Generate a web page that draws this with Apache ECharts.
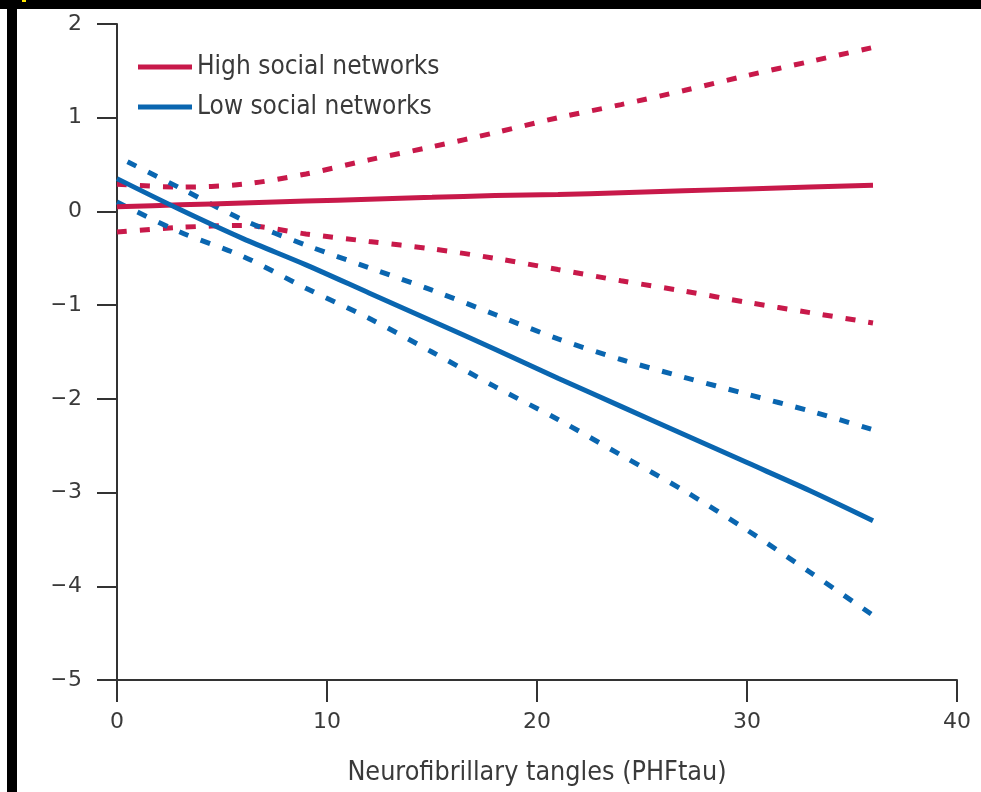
<!DOCTYPE html>
<html><head><meta charset="utf-8">
<script src="https://cdn.jsdelivr.net/npm/echarts@6/dist/echarts.min.js"></script>
<style>html,body{margin:0;padding:0;background:#fff}#c{width:981px;height:792px}</style>
</head><body><div id="c"></div>
<script>
const xTicks = [0, 10, 20, 30, 40];
const yTicks = [-5, -4, -3, -2, -1, 0, 1, 2];
const xs = [0, 3, 6, 9, 12, 15, 18, 21, 24, 27, 30, 33, 36];
const highFit = [0.05, 0.07, 0.09, 0.11, 0.13, 0.15, 0.17, 0.18, 0.20, 0.22, 0.24, 0.26, 0.28];
const highUpper = [0.29, 0.26, 0.29, 0.40, 0.55, 0.69, 0.84, 1.0, 1.14, 1.29, 1.45, 1.60, 1.75];
const highLower = [-0.22, -0.17, -0.15, -0.24, -0.32, -0.40, -0.50, -0.62, -0.74, -0.85, -0.97, -1.08, -1.19];
const lowFit = [0.35, 0.02, -0.29, -0.57, -0.87, -1.17, -1.47, -1.78, -2.08, -2.38, -2.68, -2.98, -3.30];
const lowUpperXs = [0.5, 3, 6, 9, 12, 15, 18, 21, 24, 27, 30, 33, 36];
const lowUpper = [0.53, 0.25, -0.09, -0.36, -0.60, -0.84, -1.10, -1.36, -1.58, -1.77, -1.95, -2.13, -2.33];
const lowLower = [0.10, -0.22, -0.48, -0.82, -1.14, -1.50, -1.87, -2.22, -2.60, -2.98, -3.40, -3.85, -4.31];

const RED = '#c8194a', BLUE = '#0a66b0';
const FONT = '"Liberation Sans Narrow","DejaVu Sans Condensed",sans-serif';
const TFONT = '"DejaVu Sans",sans-serif';
const TXT = '#3a3a3a';
const pair = (xv, yv) => xv.map((x, i) => [x, yv[i]]);
const fmt = v => (v < 0 ? '{m|\u2212}{d|' + Math.abs(v) + '}' : '{d|' + v + '}');
const rich = {
  m: { fontFamily: FONT, fontSize: 22, color: TXT, padding: [0, 1, 0, 0] },
  d: { fontFamily: TFONT, fontSize: 22, color: TXT }
};

function line(name, data, color, dashed) {
  return {
    name: name, type: 'line', data: data, symbol: 'none', smooth: 0.3,
    lineStyle: { color: color, width: 5, type: dashed ? [10, 13] : 'solid', cap: 'butt' },
    itemStyle: { color: color }, silent: true, z: dashed ? 2 : 3
  };
}

const chart = echarts.init(document.getElementById('c'));
chart.setOption({
  animation: false,
  backgroundColor: '#fff',
  grid: { left: 117, right: 24, top: 24, bottom: 112, outerBoundsMode: 'none', containLabel: false },
  legend: {
    data: ['High social networks', 'Low social networks'],
    orient: 'vertical', left: 133, top: 49,
    icon: 'rect', itemWidth: 54, itemHeight: 5, itemGap: 14,
    textStyle: { fontFamily: FONT, fontSize: 26, color: TXT }
  },
  xAxis: {
    type: 'value', min: 0, max: 40, interval: 10,
    name: 'Neurofibrillary tangles (PHFtau)', nameLocation: 'middle', nameGap: 80,
    nameTextStyle: { fontFamily: FONT, fontSize: 26.7, color: TXT },
    axisLine: { onZero: false, lineStyle: { color: '#333', width: 2 } },
    axisTick: { length: 22, lineStyle: { color: '#333', width: 2 } },
    axisLabel: { margin: 31, formatter: fmt, rich: rich },
    splitLine: { show: false }
  },
  yAxis: {
    type: 'value', min: -5, max: 2, interval: 1,
    axisLine: { show: true, onZero: false, lineStyle: { color: '#333', width: 2 } },
    axisTick: { show: true, length: 20, lineStyle: { color: '#333', width: 2 } },
    axisLabel: { margin: 35, formatter: fmt, rich: rich },
    splitLine: { show: false }
  },
  series: [
    line('High social networks', pair(xs, highFit), RED, false),
    line('Low social networks', pair(xs, lowFit), BLUE, false),
    line('', pair(xs, highUpper), RED, true),
    line('', pair(xs, highLower), RED, true),
    line('', pair(lowUpperXs, lowUpper), BLUE, true),
    line('', pair(xs, lowLower), BLUE, true)
  ],
  graphic: [
    { type: 'rect', shape: { x: 0, y: 0, width: 981, height: 9 }, style: { fill: '#000' }, z: 100 },
    { type: 'rect', shape: { x: 7, y: 0, width: 10, height: 792 }, style: { fill: '#000' }, z: 100 },
    { type: 'rect', shape: { x: 22, y: 0, width: 4, height: 2 }, style: { fill: '#ffe600' }, z: 101 }
  ]
});
</script></body></html>
